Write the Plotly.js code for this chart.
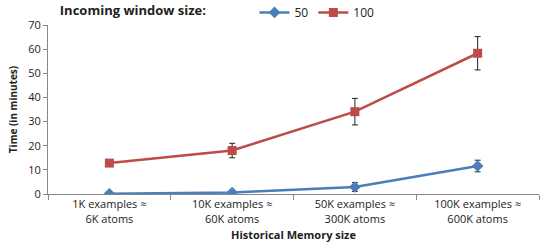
<!DOCTYPE html>
<html><head><meta charset="utf-8">
<script src="https://cdn.plot.ly/plotly-3.0.1.min.js"></script>
<style>html,body{margin:0;padding:0;background:#fff}#chart{width:540px;height:242px}</style>
</head><body><div id="chart"></div>
<script>
const categories = ["1K examples ≈<br>6K atoms", "10K examples ≈<br>60K atoms", "50K examples ≈<br>300K atoms", "100K examples ≈<br>600K atoms"];
const series50 = [0.1, 0.6, 2.9, 11.6];
const err50 = [0, 0, 1.8, 2.4];
const series100 = [12.8, 18.0, 34.1, 58.3];
const err100 = [0, 3.0, 5.5, 6.9];
const seriesNames = ["50", "100"];

const font = "Open Sans, DejaVu Sans, sans-serif";
const traces = [
  {x: categories, y: series50, name: seriesNames[0], type: "scatter", mode: "lines+markers",
   line: {color: "#4A7EBB", width: 2.5}, marker: {symbol: "diamond", size: 9, color: "#4A7EBB"},
   error_y: {type: "data", array: err50, visible: true, color: "#222", thickness: 1, width: 3}},
  {x: categories, y: series100, name: seriesNames[1], type: "scatter", mode: "lines+markers",
   line: {color: "#BE4B48", width: 2.5}, marker: {symbol: "square", size: 9, color: "#BE4B48"},
   error_y: {type: "data", array: err100, visible: true, color: "#222", thickness: 1, width: 3}}
];
const layout = {
  width: 540, height: 242,
  margin: {l: 48, r: 1, t: 25, b: 48, autoexpand: false},
  paper_bgcolor: "#fff", plot_bgcolor: "#fff",
  font: {family: font, size: 10, color: "#222"},
  showlegend: true,
  legend: {orientation: "h", x: 0.02, xanchor: "left", y: 1.16, yanchor: "top",
    title: {text: "<b>Incoming window size:</b>" + "\u00a0".repeat(12), font: {size: 13}, side: "left"},
    font: {size: 12}, itemwidth: 30, bgcolor: "rgba(0,0,0,0)", tracegroupgap: 0},
  xaxis: {type: "category", range: [-0.5, 3.5], showline: true, linecolor: "#888", linewidth: 1,
    ticks: "outside", tickson: "boundaries", ticklen: 5, tickcolor: "#888",
    showgrid: false, zeroline: false, tickfont: {size: 11},
    title: {text: "<b>Historical Memory size</b>", font: {size: 11}, standoff: 6}},
  yaxis: {range: [0, 70], dtick: 10, showline: true, linecolor: "#888", linewidth: 1,
    ticks: "outside", ticklen: 4, tickcolor: "#888", showgrid: false, zeroline: false,
    tickfont: {size: 11},
    title: {text: "<b>Time (in minutes)</b>", font: {size: 10}, standoff: 8}}
};
Plotly.newPlot("chart", traces, layout, {displayModeBar: false, staticPlot: true});
</script></body></html>
